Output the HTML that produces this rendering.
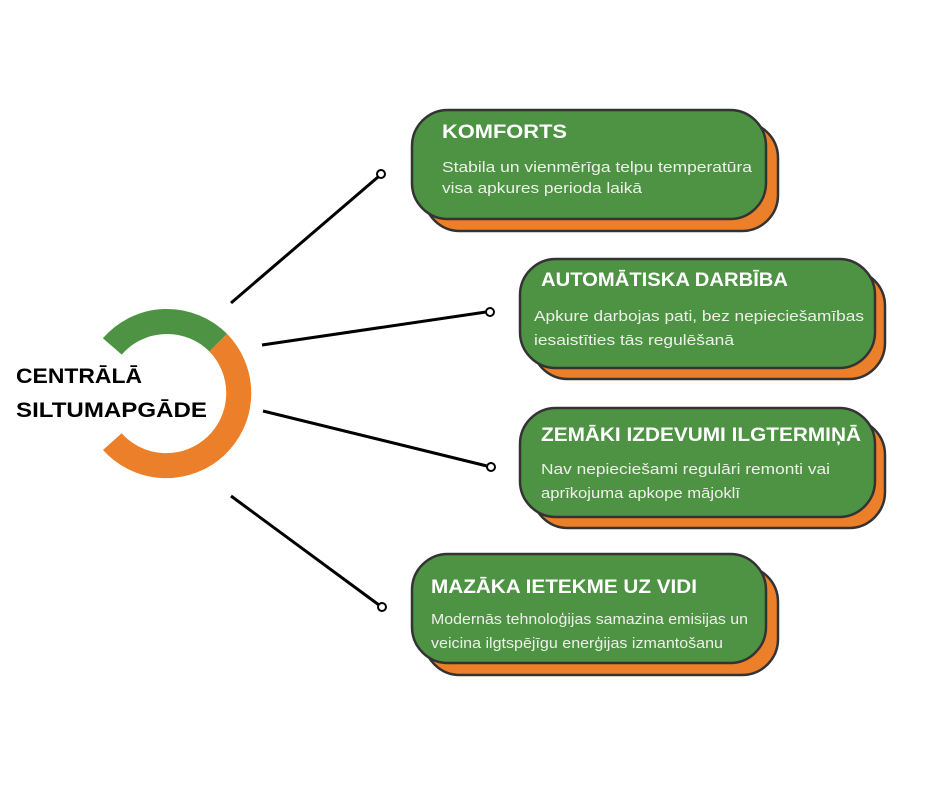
<!DOCTYPE html>
<html><head><meta charset="utf-8"><style>
html,body{margin:0;padding:0;background:#fff;}
svg{display:block;}
.t{font-family:"Liberation Sans",sans-serif;font-weight:bold;fill:#fff;font-size:19px;}
.b{font-family:"Liberation Sans",sans-serif;fill:#eef0ea;font-size:15px;}
.c{font-family:"Liberation Sans",sans-serif;font-weight:bold;fill:#000;font-size:21px;}
</style></head><body>
<svg width="940" height="788" viewBox="0 0 940 788" xmlns="http://www.w3.org/2000/svg">
<rect width="940" height="788" fill="#fff"/>
<path d="M112.3 346.4 A72.5 72.5 0 0 1 218.3 342.7" fill="none" stroke="#4e9344" stroke-width="25"/>
<path d="M218.3 342.7 A72.5 72.5 0 1 1 112.3 441.6" fill="none" stroke="#ec7f29" stroke-width="25"/>
<text class="c" x="16" y="383" textLength="126" lengthAdjust="spacingAndGlyphs">CENTRĀLĀ</text>
<text class="c" x="16" y="417" textLength="191" lengthAdjust="spacingAndGlyphs">SILTUMAPGĀDE</text>
<g stroke="#000" stroke-width="3" fill="none">
<line x1="231" y1="303" x2="378" y2="177"/>
<line x1="262" y1="345" x2="486" y2="312"/>
<line x1="263" y1="411" x2="487" y2="466"/>
<line x1="231" y1="496" x2="379" y2="605"/>
</g>
<g stroke="#000" stroke-width="2" fill="#fff">
<circle cx="381" cy="174" r="4"/>
<circle cx="490" cy="312" r="4"/>
<circle cx="491" cy="467" r="4"/>
<circle cx="382" cy="607" r="4"/>
</g>
<g stroke="#333" stroke-width="2.5">
<rect x="424" y="122" width="354" height="109" rx="36" fill="#ec7f29"/>
<rect x="412" y="110" width="354" height="109" rx="36" fill="#4e9344"/>
<rect x="532" y="270" width="353" height="109" rx="36" fill="#ec7f29"/>
<rect x="520" y="259" width="355" height="109" rx="36" fill="#4e9344"/>
<rect x="532" y="419" width="353" height="109" rx="36" fill="#ec7f29"/>
<rect x="520" y="408" width="355" height="109" rx="36" fill="#4e9344"/>
<rect x="424" y="566" width="354" height="109" rx="36" fill="#ec7f29"/>
<rect x="412" y="554" width="354" height="109" rx="36" fill="#4e9344"/>
</g>
<text class="t" x="442" y="138" textLength="125" lengthAdjust="spacingAndGlyphs">KOMFORTS</text>
<text class="b" x="442" y="172" textLength="310" lengthAdjust="spacingAndGlyphs">Stabila un vienmērīga telpu temperatūra</text>
<text class="b" x="442" y="193" textLength="200" lengthAdjust="spacingAndGlyphs">visa apkures perioda laikā</text>
<text class="t" x="541" y="286" textLength="247" lengthAdjust="spacingAndGlyphs">AUTOMĀTISKA DARBĪBA</text>
<text class="b" x="534" y="321" textLength="330" lengthAdjust="spacingAndGlyphs">Apkure darbojas pati, bez nepieciešamības</text>
<text class="b" x="534" y="345" textLength="200" lengthAdjust="spacingAndGlyphs">iesaistīties tās regulēšanā</text>
<text class="t" x="541" y="441" textLength="320" lengthAdjust="spacingAndGlyphs">ZEMĀKI IZDEVUMI ILGTERMIŅĀ</text>
<text class="b" x="541" y="474" textLength="289" lengthAdjust="spacingAndGlyphs">Nav nepieciešami regulāri remonti vai</text>
<text class="b" x="541" y="498" textLength="199" lengthAdjust="spacingAndGlyphs">aprīkojuma apkope mājoklī</text>
<text class="t" x="431" y="593" textLength="266" lengthAdjust="spacingAndGlyphs">MAZĀKA IETEKME UZ VIDI</text>
<text class="b" x="431" y="624" textLength="317" lengthAdjust="spacingAndGlyphs">Modernās tehnoloģijas samazina emisijas un</text>
<text class="b" x="431" y="648" textLength="292" lengthAdjust="spacingAndGlyphs">veicina ilgtspējīgu enerģijas izmantošanu</text>
</svg>
</body></html>
